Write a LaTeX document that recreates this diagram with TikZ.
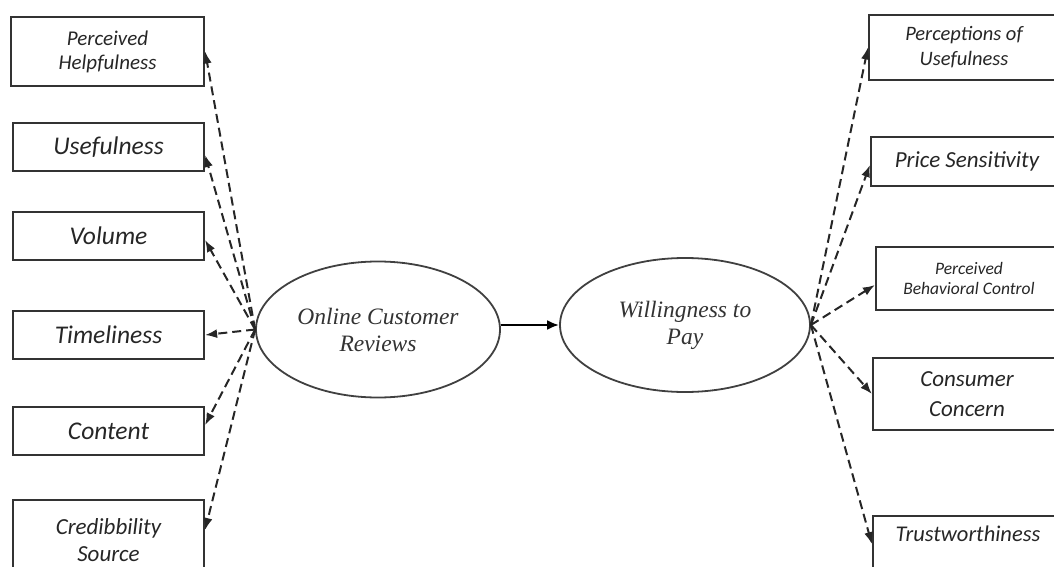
\documentclass[tikz,border=0pt]{standalone}
\usepackage{fontspec}
\setmainfont{Liberation Serif}
\newfontfamily\boxfont{Carlito}
\usetikzlibrary{arrows.meta,shapes.geometric}
\begin{document}
\begin{tikzpicture}[x=1pt,y=-1pt,
  box/.style={draw=black!80, line width=2.2pt, rectangle, inner sep=0pt, align=center,
    text=black!85, font=\boxfont\itshape\fontsize{25.5}{29}\selectfont},
  ell/.style={draw=black!75, line width=1.8pt, ellipse, inner sep=0pt, align=center,
    font=\itshape\fontsize{23.5}{27}\selectfont, text=black!80},
  link/.style={dash pattern=on 9pt off 5pt, line width=2pt, draw=black!85,
    -{Latex[length=12pt,width=9pt]}},
  mainlink/.style={line width=2.6pt, draw=black, -{Latex[length=12pt,width=10pt]}}
]
\useasboundingbox (0,0) rectangle (1054,567);

% left boxes
\node[box, minimum width=193pt, minimum height=69pt,
  font=\boxfont\itshape\fontsize{21}{24}\selectfont] (ph) at (107.5,51.5) {Perceived\\Helpfulness};
\node[box, minimum width=191pt, minimum height=48pt] (us) at (108.5,147) {Usefulness};
\node[box, minimum width=191pt, minimum height=48pt] (vol) at (108.5,236) {Volume};
\node[box, minimum width=191pt, minimum height=48pt] (tim) at (108.5,335) {Timeliness};
\node[box, minimum width=191pt, minimum height=48pt] (con) at (108.5,431) {Content};
\node[box, minimum width=191pt, minimum height=80pt,
  font=\boxfont\itshape\fontsize{23}{27}\selectfont] (cred) at (108.5,540) {Credibbility\\Source};

% right boxes
\node[box, minimum width=190pt, minimum height=65pt,
  font=\boxfont\itshape\fontsize{20.5}{25}\selectfont] (pou) at (964,47.5) {Perceptions of\\Usefulness};
\node[box, minimum width=192pt, minimum height=49pt,
  font=\boxfont\itshape\fontsize{23}{26}\selectfont] (ps) at (967,161.5) {Price Sensitivity};
\node[box, minimum width=186pt, minimum height=63pt,
  font=\boxfont\itshape\fontsize{17.5}{20}\selectfont] (pbc) at (969,278.5) {Perceived\\Behavioral Control};
\node[box, minimum width=188pt, minimum height=72pt,
  font=\boxfont\itshape\fontsize{23}{30}\selectfont] (cc) at (967,394) {Consumer\\Concern};
\node[box, minimum width=190pt, anchor=north, inner ysep=8pt, text height=17pt, text depth=40pt,
  font=\boxfont\itshape\fontsize{22.5}{26}\selectfont] (tw) at (968,515) {Trustworthiness};

% ellipses
\node[ell, minimum width=244pt, minimum height=136pt] (ocr) at (378,329.5) {Online Customer\\Reviews};
\node[ell, minimum width=250pt, minimum height=134pt] (wtp) at (685,325) {Willingness to\\Pay};

% main arrow
\draw[mainlink] (ocr.east |- wtp.west) -- (wtp.west);

% left dashed arrows
\draw[link] (ocr.west) -- (ph.east);
\draw[link] (ocr.west) -- ([yshift=-8pt]us.east);
\draw[link] (ocr.west) -- ([yshift=-4pt]vol.east);
\draw[link] (ocr.west) -- (tim.east);
\draw[link] (ocr.west) -- ([yshift=6pt]con.east);
\draw[link] (ocr.west) -- ([yshift=10pt]cred.east);

% right dashed arrows
\draw[link] (wtp.east) -- (pou.west);
\draw[link] (wtp.east) -- ([yshift=-3.5pt]ps.west);
\draw[link] (wtp.east) -- ([yshift=-6.5pt]pbc.west);
\draw[link] (wtp.east) -- (cc.west);
\draw[link] (wtp.east) -- ([yshift=8.5pt]tw.west);
\end{tikzpicture}
\end{document}
